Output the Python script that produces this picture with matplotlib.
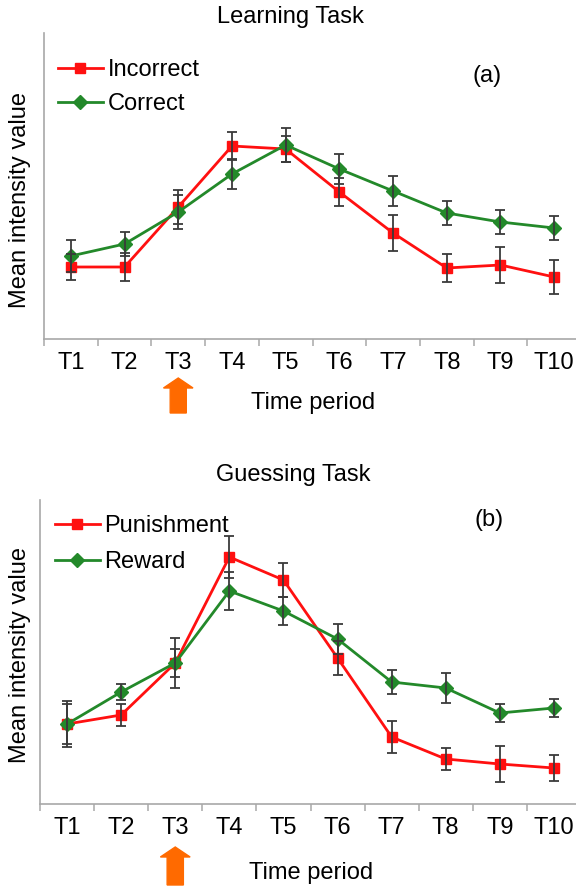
import numpy as np
import matplotlib
matplotlib.use("Agg")
import matplotlib.pyplot as plt
from matplotlib.patches import FancyArrow
from matplotlib.transforms import blended_transform_factory

plt.rcParams['font.family'] = ['Liberation Sans', 'DejaVu Sans']

# ---------------- data ----------------
periods = ["T1", "T2", "T3", "T4", "T5", "T6", "T7", "T8", "T9", "T10"]

# Learning task
incorrect = [72, 72, 132, 193, 190, 147, 106, 71, 74, 62]
incorrect_err = [13, 14, 17, 14, 13, 14, 18, 14, 18, 17]
correct = [83, 95, 127, 165, 194, 170, 148, 126, 117, 111]
correct_err = [16, 12, 17, 15, 17, 15, 15, 12, 12, 12]

# Guessing task
punishment = [80, 89, 141, 247, 224, 146, 67, 45, 40, 36]
punishment_err = [23, 11, 14, 21, 17, 17, 16, 11, 18, 13]
reward = [80, 112, 141, 213, 193, 165, 122, 116, 91, 96]
reward_err = [20, 8, 25, 19, 14, 15, 12, 15, 9, 9]

onset = 2  # stimulus onset at T3

RED = "#ff1010"
GREEN = "#23892a"
ERR = "#3a3a3a"
AXC = "#a8a8a8"
ORANGE = "#ff6a00"
fs = 17

W, H = 576, 888
fig = plt.figure(figsize=(W / 100, H / 100), dpi=100)


def px_axes(left, top, right, bottom):
    return fig.add_axes([left / W, 1 - bottom / H, (right - left) / W, (bottom - top) / H])


def panel(ax, s1, e1, l1, s2, e2, l2, ymax):
    x = np.arange(len(periods))
    ax.plot(x, s1, "-", color=RED, lw=2, marker="s", ms=7.5, mec=RED, mfc=RED, label=l1, zorder=3)
    ax.plot(x, s2, "-", color=GREEN, lw=2, marker="D", ms=7, mec=GREEN, mfc=GREEN, label=l2, zorder=4)
    ax.errorbar(x, s1, yerr=e1, fmt="none", ecolor=ERR, elinewidth=1.3, capsize=3.5, capthick=1.3, zorder=5)
    ax.errorbar(x, s2, yerr=e2, fmt="none", ecolor=ERR, elinewidth=1.3, capsize=3.5, capthick=1.3, zorder=5)
    ax.set_xlim(-0.5, len(periods) - 0.5)
    ax.set_ylim(0, ymax)
    for s in ["top", "right"]:
        ax.spines[s].set_visible(False)
    for s in ["left", "bottom"]:
        ax.spines[s].set_color(AXC)
        ax.spines[s].set_linewidth(1.2)
    ax.set_yticks([])
    ax.set_xticks(x)
    ax.set_xticklabels(periods, fontsize=fs)
    ax.set_xticks(np.arange(-0.5, len(periods)), minor=True)
    ax.tick_params(axis="x", which="major", length=0, pad=9)
    ax.tick_params(axis="x", which="minor", length=5, width=1.1, color=AXC, direction="out")


def onset_arrow(ax, y_top, y_bot):
    tr = blended_transform_factory(ax.transData, fig.transFigure)
    yt = 1 - y_top / H
    yb = 1 - y_bot / H
    arr = FancyArrow(onset, yb, 0, yt - yb, width=0.3, head_width=0.55,
                     head_length=10 / H, length_includes_head=True,
                     color=ORANGE, transform=tr, clip_on=False)
    fig.add_artist(arr)


def legend(ax, x0, y0, sp):
    ax.legend(loc="upper left", bbox_to_anchor=(x0 / W, 1 - y0 / H), bbox_transform=fig.transFigure,
              frameon=False, fontsize=fs, handlelength=1.9, handletextpad=0.2,
              labelspacing=sp, borderpad=0, borderaxespad=0)


# ---------------- (a) Learning task ----------------
ax1 = px_axes(44, 33, 581, 339)
panel(ax1, incorrect, incorrect_err, "Incorrect", correct, correct_err, "Correct", 306)
fig.text(290 / W, 1 - 17 / H, "Learning Task", fontsize=fs, ha="center", va="center")
fig.text(20 / W, 1 - 200 / H, "Mean intensity value", fontsize=fs, rotation=90, ha="center", va="center")
fig.text(313 / W, 1 - 403 / H, "Time period", fontsize=fs, ha="center", va="center")
fig.text(487 / W, 1 - 76 / H, "(a)", fontsize=fs, ha="center", va="center")
legend(ax1, 58, 59, 0.5)
onset_arrow(ax1, 378, 413)

# ---------------- (b) Guessing task ----------------
ax2 = px_axes(40, 500, 581, 804)
panel(ax2, punishment, punishment_err, "Punishment", reward, reward_err, "Reward", 304)
fig.text(293 / W, 1 - 475 / H, "Guessing Task", fontsize=fs, ha="center", va="center")
fig.text(20 / W, 1 - 655 / H, "Mean intensity value", fontsize=fs, rotation=90, ha="center", va="center")
fig.text(311 / W, 1 - 873 / H, "Time period", fontsize=fs, ha="center", va="center")
fig.text(489 / W, 1 - 520 / H, "(b)", fontsize=fs, ha="center", va="center")
legend(ax2, 55, 515, 0.6)
onset_arrow(ax2, 847, 885)

fig.savefig("out.png", dpi=100)
